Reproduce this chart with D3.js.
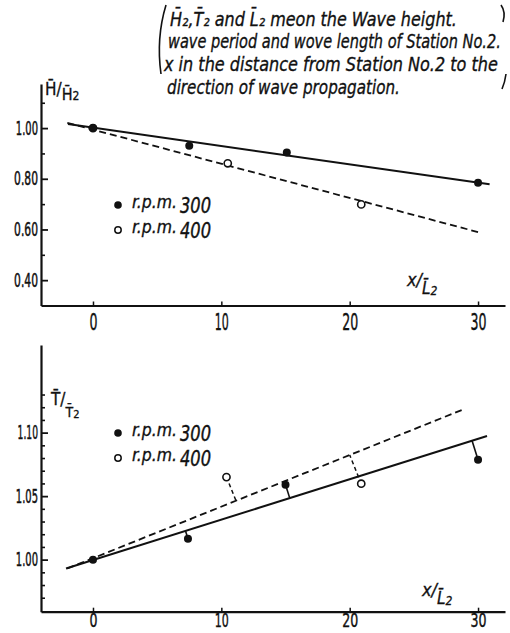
<!DOCTYPE html>
<html>
<head>
<meta charset="utf-8">
<script src="https://cdn.jsdelivr.net/npm/d3@7/dist/d3.min.js"></script>
<style>
  body { margin: 0; background: #fff; }
  svg { display: block; }
  text { fill: #111; }
</style>
</head>
<body>
<svg id="chart" width="510" height="633"></svg>
<script>
// ---- wave height ratio H/H2 against x/L2 ----
const heightX300 = [0, 7.5, 15.1, 30.0];
const heightY300 = [1.000, 0.930, 0.904, 0.784];
const heightX400 = [0, 10.5, 20.9];
const heightY400 = [1.000, 0.861, 0.699];
const heightFit300 = [[-1.95, 1.016], [30.9, 0.778]];
const heightFit400 = [[-2.0, 1.021], [30.2, 0.587]];

// ---- wave period ratio T/T2 against x/L2 ----
const periodX300 = [0, 7.4, 15.0, 30.0];
const periodY300 = [1.000, 1.0165, 1.059, 1.0787];
const periodX400 = [10.4, 20.9];
const periodY400 = [1.065, 1.0598];
const periodFit300 = [[-2.1, 0.993], [30.7, 1.0973]];
const periodFit400 = [[-2.0, 0.993], [29.0, 1.1189]];

// ---- ticks ----
const xTicks = [0, 10, 20, 30];
const heightMajor = [0.40, 0.60, 0.80, 1.00];
const heightMinor = [0.50, 0.70, 0.90, 1.10];
const periodMajor = [1.00, 1.05, 1.10];
const periodMinor = [0.97, 0.98, 0.99, 1.01, 1.02, 1.03, 1.04, 1.06, 1.07, 1.08, 1.09, 1.11, 1.12, 1.13];

const legendLabels = ["300", "400"];
const note = [
  "H\u0304\u2082,T\u0304\u2082 and L\u0304\u2082 meon the  Wave height.",
  "wave period and wove length of Station No.2.",
  "x in the distance from Station No.2 to the",
  "direction of wave propagation."
];

const NARROW = "'Liberation Sans Narrow','DejaVu Sans Condensed','Arial Narrow',sans-serif";
const svg = d3.select("#chart");

// width of a numeric label in the condensed figure font
function numWidth(s, dw, pw) {
  let w = 0;
  for (const ch of s) w += (ch === "." ? pw : (ch === "1" ? dw * 0.75 : dw));
  return w;
}

// squeeze a text horizontally so it spans x0..x1, baseline at y
function fitX(sel, x0, x1, y) {
  sel.attr("x", 0).attr("y", 0);
  const w = sel.node().getComputedTextLength();
  sel.attr("transform", `translate(${x0},${y}) scale(${((x1 - x0) / w).toFixed(4)},1)`);
  return sel;
}

function panel(cfg) {
  const x = d3.scaleLinear().domain([-4.05, 32.1]).range([41, 505]);
  const y = d3.scaleLinear().domain(cfg.yDomain).range(cfg.yRange);
  const g = svg.append("g");

  // minor y ticks
  g.append("g").attr("transform", "translate(41,0)")
    .call(d3.axisLeft(y).tickValues(cfg.minor).tickSize(-4).tickSizeOuter(0).tickFormat(""))
    .call(a => a.select(".domain").remove())
    .selectAll("line").attr("stroke", "#111").attr("stroke-width", 1.6);

  // major y ticks + labels
  const ya = g.append("g").attr("transform", "translate(41,0)")
    .call(d3.axisLeft(y).tickValues(cfg.major).tickSize(-7).tickSizeOuter(0)
      .tickPadding(3).tickFormat(cfg.fmt));
  ya.select(".domain").attr("stroke", "#111").attr("stroke-width", 2.2);
  ya.selectAll("line").attr("stroke", "#111").attr("stroke-width", 1.8);
  ya.selectAll("text")
    .attr("font-family", NARROW).attr("font-size", 19).attr("fill", "#111")
    .attr("stroke", "#111").attr("stroke-width", 0.5)
    .attr("textLength", d => numWidth(cfg.fmt(d), 6.9, 3.2))
    .attr("lengthAdjust", "spacingAndGlyphs");

  // x axis
  const xa = g.append("g").attr("transform", `translate(0,${cfg.yRange[0]})`)
    .call(d3.axisBottom(x).tickValues(xTicks).tickSize(-4).tickSizeOuter(0).tickPadding(cfg.xPad));
  xa.select(".domain").attr("stroke", "#111").attr("stroke-width", 2.2);
  xa.selectAll("line").attr("stroke", "#111").attr("stroke-width", 1.5);
  xa.selectAll("text")
    .attr("font-family", NARROW).attr("font-size", cfg.xFont).attr("fill", "#111")
    .attr("stroke", "#111").attr("stroke-width", 0.4)
    .attr("textLength", d => numWidth(String(d), 8, 3))
    .attr("lengthAdjust", "spacingAndGlyphs");

  // fitted lines
  const line = d3.line().x(d => x(d[0])).y(d => y(d[1]));
  g.append("path").datum(cfg.fit300).attr("d", line)
    .attr("fill", "none").attr("stroke", "#111").attr("stroke-width", 2);
  g.append("path").datum(cfg.fit400).attr("d", line)
    .attr("fill", "none").attr("stroke", "#111").attr("stroke-width", 1.8)
    .attr("stroke-dasharray", "7,4");

  // residual connectors, perpendicular to each series' own line
  if (cfg.connectors) {
    const foot = (px, py, fit) => {
      const ax = x(fit[0][0]), ay = y(fit[0][1]);
      const dx = x(fit[1][0]) - ax, dy = y(fit[1][1]) - ay;
      const t = ((px - ax) * dx + (py - ay) * dy) / (dx * dx + dy * dy);
      return [ax + t * dx, ay + t * dy];
    };
    cfg.x300.forEach((v, i) => {
      if (v === 0) return;
      const px = x(v), py = y(cfg.y300[i]);
      const f = foot(px, py, cfg.fit300);
      g.append("line").attr("x1", px).attr("y1", py).attr("x2", f[0]).attr("y2", f[1])
        .attr("stroke", "#111").attr("stroke-width", 1.6);
    });
    cfg.x400.forEach((v, i) => {
      const px = x(v), py = y(cfg.y400[i]);
      const f = foot(px, py, cfg.fit400);
      g.append("line").attr("x1", px).attr("y1", py).attr("x2", f[0]).attr("y2", f[1])
        .attr("stroke", "#111").attr("stroke-width", 1.5).attr("stroke-dasharray", "4,3");
    });
  }

  // points
  g.selectAll(".o").data(cfg.x400.map((v, i) => [v, cfg.y400[i]])).enter().append("circle")
    .attr("cx", d => x(d[0])).attr("cy", d => y(d[1])).attr("r", 3.6)
    .attr("fill", "#fff").attr("stroke", "#111").attr("stroke-width", 1.6);
  g.selectAll(".f").data(cfg.x300.map((v, i) => [v, cfg.y300[i]])).enter().append("circle")
    .attr("cx", d => x(d[0])).attr("cy", d => y(d[1])).attr("r", 4)
    .attr("fill", "#111");

  // legend
  cfg.legend.forEach((ly, i) => {
    if (i === 0) g.append("circle").attr("cx", 118).attr("cy", ly).attr("r", 3.8).attr("fill", "#111");
    else g.append("circle").attr("cx", 118).attr("cy", ly).attr("r", 3.2)
      .attr("fill", "#fff").attr("stroke", "#111").attr("stroke-width", 1.5);
    fitX(g.append("text")
      .attr("font-family", NARROW).attr("font-style", "italic").attr("font-size", 17)
      .attr("stroke", "#111").attr("stroke-width", 0.3)
      .text("r.p.m."), cfg.rpmX, 177, ly + 3);
    fitX(g.append("text")
      .attr("font-family", NARROW).attr("font-style", "italic").attr("font-size", 22)
      .attr("stroke", "#111").attr("stroke-width", 0.4)
      .text(legendLabels[i]), 180, 211, ly + 8);
  });

  // x-axis title  x / L2
  const xt = g.append("text").attr("font-family", NARROW).attr("font-style", "italic")
    .attr("stroke", "#111").attr("stroke-width", 0.3);
  xt.append("tspan").attr("x", cfg.xTitle[0]).attr("y", cfg.xTitle[1]).attr("font-size", 18).text("x");
  xt.append("tspan").attr("font-size", 18).text("/");
  xt.append("tspan").attr("dy", 8).attr("font-size", 17).text("L\u0304");
  xt.append("tspan").attr("dy", 1).attr("font-size", 12).text("2");

  return { x, y, g };
}

// upper panel: wave height
const heightPanel = panel({
  yDomain: [0.30, 1.174], yRange: [305.5, 84],
  major: heightMajor, minor: heightMinor, fmt: d3.format(".2f"),
  x300: heightX300, y300: heightY300, x400: heightX400, y400: heightY400,
  fit300: heightFit300, fit400: heightFit400, connectors: false,
  legend: [205, 230], rpmX: 132, xPad: 8, xFont: 23, xTitle: [407, 286]
});

// lower panel: wave period
const periodPanel = panel({
  yDomain: [0.959, 1.169], yRange: [611.7, 345],
  major: periodMajor, minor: periodMinor, fmt: d3.format(".2f"),
  x300: periodX300, y300: periodY300, x400: periodX400, y400: periodY400,
  fit300: periodFit300, fit400: periodFit400, connectors: true,
  legend: [433, 458], rpmX: 132, xPad: 1, xFont: 19.5, xTitle: [422, 596]
});

// y-axis titles
const yt1 = svg.append("text").attr("font-family", NARROW).attr("stroke", "#111").attr("stroke-width", 0.3);
yt1.append("tspan").attr("x", 45).attr("y", 95).attr("font-size", 17).text("H\u0304");
yt1.append("tspan").attr("font-size", 17).text("/");
yt1.append("tspan").attr("dy", 5).attr("font-size", 16).text("H\u0304");
yt1.append("tspan").attr("dy", 0).attr("font-size", 12).text("2");

const yt2 = svg.append("text").attr("font-family", NARROW).attr("stroke", "#111").attr("stroke-width", 0.3);
yt2.append("tspan").attr("x", 51).attr("y", 405).attr("font-size", 17).text("T\u0304");
yt2.append("tspan").attr("font-size", 17).text("/");
yt2.append("tspan").attr("dy", 12).attr("font-size", 14).text("T\u0304");
yt2.append("tspan").attr("dy", 1).attr("font-size", 11).text("2");

// explanatory note in brackets
const nt = svg.append("g").attr("font-family", NARROW).attr("font-style", "italic")
  .attr("font-size", 20).attr("stroke", "#111").attr("stroke-width", 0.35);
const noteLines = [[170, 457, 26], [168, 501, 48], [164, 498, 71], [167, 400, 94]];
note.forEach((s, i) => {
  const [x0, x1, y] = noteLines[i];
  fitX(nt.append("text").text(s), x0, x1, y);
});

// brackets around the note
svg.append("path").attr("d", "M166,5 Q156,38 161,74")
  .attr("fill", "none").attr("stroke", "#111").attr("stroke-width", 1.6);
svg.append("path").attr("d", "M501,5 Q506,12 503,22")
  .attr("fill", "none").attr("stroke", "#111").attr("stroke-width", 1.6);
svg.append("path").attr("d", "M506,74 Q505,82 502,89")
  .attr("fill", "none").attr("stroke", "#111").attr("stroke-width", 1.6);
</script>
</body>
</html>
